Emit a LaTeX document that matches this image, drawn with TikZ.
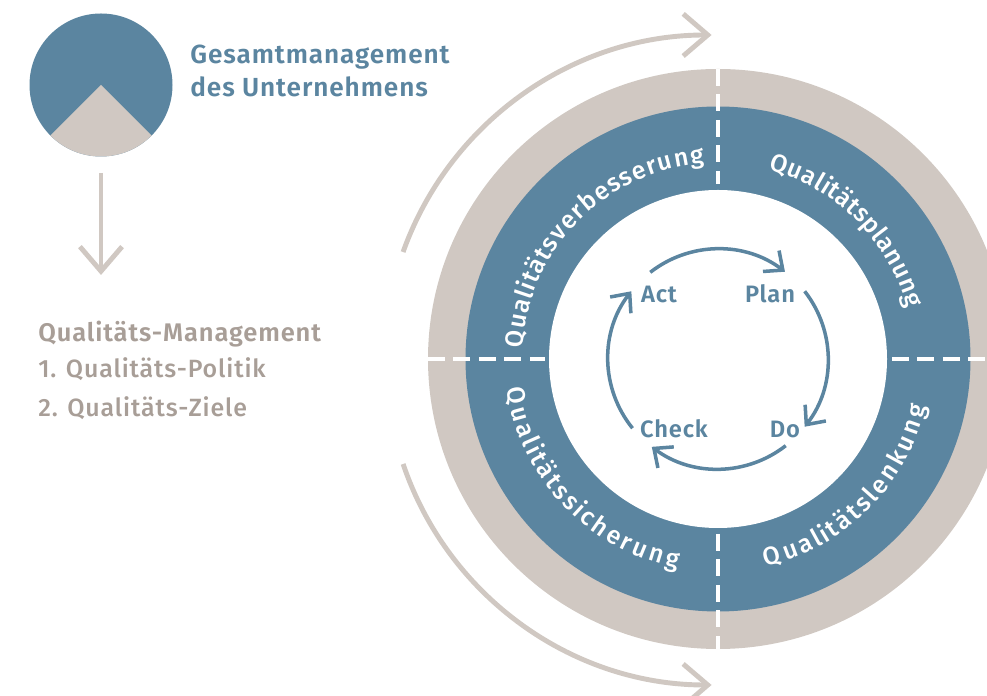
\documentclass[tikz,border=0pt]{standalone}
\usepackage{fontspec}
\usepackage{color}
\usetikzlibrary{arrows.meta,decorations.text}
\setmainfont{Fira Sans}
\newfontfamily\headfont[LetterSpace=3.5]{Fira Sans SemiBold}
\newfontfamily\listfont[LetterSpace=3.5]{Fira Sans Medium}
\newfontfamily\ringfont{Fira Sans Medium}
\definecolor{qblue}{HTML}{5B85A0}
\definecolor{qsand}{HTML}{D0C8C2}
\definecolor{qtext}{HTML}{A89E97}
\tikzset{
  bigline/.style={draw=qsand,line width=2.8pt,-{Straight Barb[length=14pt,width=24pt,line width=2.8pt]}},
  pdcaline/.style={draw=qblue,line width=2pt,-{Straight Barb[length=8.5pt,width=15pt,line width=2pt]}},
  cutline/.style={draw=white,line width=1.8pt,dash pattern=on 9.5pt off 5pt},
  pdcatext/.style={text=qblue,inner sep=0pt,font=\headfont\fontsize{13.5}{15}\selectfont,anchor=base},
  headtext/.style={text=qblue,inner sep=0pt,font=\headfont\fontsize{14.9}{18}\selectfont,anchor=base west},
  listtext/.style={text=qtext,inner sep=0pt,font=\listfont\fontsize{14.2}{17}\selectfont,anchor=base west},
  ringtext/.style={decorate,decoration={text effects along path,text={#1},
    text effects/.cd,fit text to path,
    characters={text along path,text=white,inner sep=0pt,font=\ringfont\fontsize{14.3}{16}\selectfont}}}
}
\begin{document}
\begin{tikzpicture}[x=0.02cm,y=0.02cm]
\useasboundingbox (0,0) rectangle (987,696);
\clip (0,0) rectangle (987,696);
\coordinate (c) at (718,337);
\coordinate (m) at (101,611);
% rings
\fill[qsand] (c) circle[radius=290];
\fill[qblue] (c) circle[radius=252.5];
\fill[white] (c) circle[radius=169];
\draw[cutline] (718,627) -- (718,512);
\draw[cutline] (718,162) -- (718,47);
\draw[cutline] (428,337) -- (545,337);
\draw[cutline] (892,337) -- (987,337);
% ring labels
\path[ringtext={Qualitätsverbesserung}]
  (c) ++(177:196) arc[start angle=177,end angle=94,radius=196];
\path[ringtext={Qualitätsplanung}]
  (c) ++(75:196) arc[start angle=75,end angle=15,radius=196];
\path[ringtext={Qualitätssicherung}]
  (c) ++(188:213) arc[start angle=188,end angle=259,radius=213];
\path[ringtext={Qualitätslenkung}]
  (c) ++(283:213) arc[start angle=283,end angle=347,radius=213];
% cycle
\draw[pdcaline] (c) ++(128:110) arc[start angle=128,end angle=52.5,radius=110];
\draw[pdcaline] (c) ++(38:110) arc[start angle=38,end angle=-38,radius=110];
\draw[pdcaline] (c) ++(-52:110) arc[start angle=-52,end angle=-127,radius=110];
\draw[pdcaline] (c) ++(-141:110) arc[start angle=-141,end angle=-218,radius=110];
\node[pdcatext] (act) at (659,393) {Act};
\node[pdcatext] (plan) at (770,393) {Plan};
\node[pdcatext] (check) at (674,258) {Check};
\node[pdcatext] (do) at (785,258) {Do};
% outer arrows
\draw[bigline] (711,334) ++(160.35:327) arc[start angle=160.35,end angle=89.9,radius=327];
\draw[bigline] (711,336) ++(198.66:325) arc[start angle=198.66,end angle=270.1,radius=325];
% top left
\fill[qblue] (m) circle[radius=71.5];
\fill[qsand] (m) -- ++(-135:71.5) arc[start angle=-135,end angle=-45,radius=71.5] -- cycle;
\coordinate (a1) at (101,523);
\coordinate (a2) at (101,421);
\draw[bigline] (a1) -- (a2);
\node[headtext] (gesamt) at (190,632) {Gesamtmanagement};
\node[headtext] (unter) at (190,599.5) {des Unternehmens};
\node[listtext,font=\headfont\fontsize{14.5}{17}\selectfont] (qm) at (38,354) {Qualitäts-Management};
\node[listtext] (qp) at (38,318) {1. Qualitäts-Politik};
\node[listtext] (qz) at (38,279.5) {2. Qualitäts-Ziele};
\end{tikzpicture}
\end{document}
